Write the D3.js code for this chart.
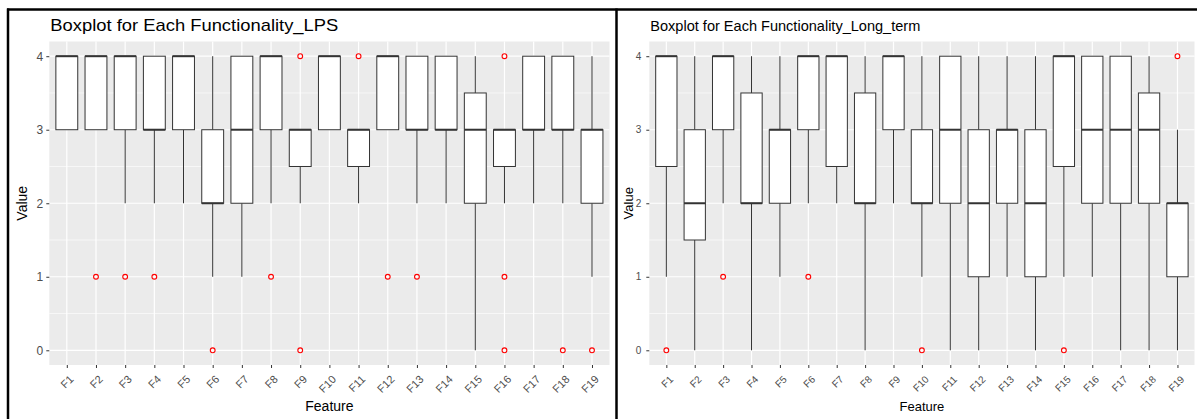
<!DOCTYPE html>
<html>
<head>
<meta charset="utf-8">
<script src="https://cdn.jsdelivr.net/npm/d3@7"></script>
<style>
  body { margin: 0; background: #fff; }
  svg { display: block; font-family: "Liberation Sans", Arial, sans-serif; }
</style>
</head>
<body>
<svg id="chart"></svg>
<script>
const features = ['F1','F2','F3','F4','F5','F6','F7','F8','F9','F10','F11','F12','F13','F14','F15','F16','F17','F18','F19']
const yTicks = [0, 1, 2, 3, 4]
const yMinor = [0.5, 1.5, 2.5, 3.5]

// LPS: whisker ends, quartiles, median, outliers
const lpsLow  = [3, 3, 2, 2, 2, 1, 1, 2, 2, 3, 2, 3, 2, 2, 0, 2, 2, 2, 1]
const lpsQ1   = [3, 3, 3, 3, 3, 2, 2, 3, 2.5, 3, 2.5, 3, 3, 3, 2, 2.5, 3, 3, 2]
const lpsMed  = [4, 4, 4, 3, 4, 2, 3, 4, 3, 4, 3, 4, 3, 3, 3, 3, 3, 3, 3]
const lpsQ3   = [4, 4, 4, 4, 4, 3, 4, 4, 3, 4, 3, 4, 4, 4, 3.5, 3, 4, 4, 3]
const lpsHigh = [4, 4, 4, 4, 4, 4, 4, 4, 3, 4, 3, 4, 4, 4, 4, 3, 4, 4, 4]
const lpsOut  = { F2: [1], F3: [1], F4: [1], F6: [0], F8: [1], F9: [4, 0], F11: [4], F12: [1], F13: [1], F16: [4, 1, 0], F18: [0], F19: [0] }

// Long term
const ltLow  = [1, 0, 2, 0, 1, 2, 2, 0, 2, 1, 0, 0, 1, 0, 1, 1, 0, 0, 0]
const ltQ1   = [2.5, 1.5, 3, 2, 2, 3, 2.5, 2, 3, 2, 2, 1, 2, 1, 2.5, 2, 2, 2, 1]
const ltMed  = [4, 2, 4, 2, 3, 4, 4, 2, 4, 2, 3, 2, 3, 2, 4, 3, 3, 3, 2]
const ltQ3   = [4, 3, 4, 3.5, 3, 4, 4, 3.5, 4, 3, 4, 3, 3, 3, 4, 4, 4, 3.5, 2]
const ltHigh = [4, 4, 4, 4, 4, 4, 4, 4, 4, 4, 4, 4, 4, 4, 4, 4, 4, 4, 3]
const ltOut  = { F1: [0], F3: [1], F6: [1], F10: [0], F15: [0], F19: [4] }

let width = 1197,
height = 419

let svg = d3.select('#chart')
.attr('width', width)
.attr('height', height)

let plotTop = 41.5, plotBottom = 365

let drawPanel = (p) => {
    let g = svg.append('g')
    let x = d3.scalePoint().domain(features).range([p.left, p.right]).padding(0.6)
    let y = d3.scaleLinear().domain([-0.2, 4.2]).range([plotBottom, plotTop])
    let bw = x.step() * 0.75

    g.append('rect')
    .attr('x', p.left).attr('y', plotTop)
    .attr('width', p.right - p.left).attr('height', plotBottom - plotTop)
    .attr('fill', '#EBEBEB')

    g.selectAll('.minor').data(yMinor).enter().append('line')
    .attr('x1', p.left).attr('x2', p.right)
    .attr('y1', d => y(d)).attr('y2', d => y(d))
    .attr('stroke', '#fff').attr('stroke-width', 0.6)

    g.selectAll('.hmajor').data(yTicks).enter().append('line')
    .attr('x1', p.left).attr('x2', p.right)
    .attr('y1', d => y(d)).attr('y2', d => y(d))
    .attr('stroke', '#fff').attr('stroke-width', 1.2)

    g.selectAll('.vmajor').data(features).enter().append('line')
    .attr('x1', d => x(d)).attr('x2', d => x(d))
    .attr('y1', plotTop).attr('y2', plotBottom)
    .attr('stroke', '#fff').attr('stroke-width', 1.2)

    let boxes = features.map((f, i) => ({
        f: f, low: p.low[i], q1: p.q1[i], med: p.med[i], q3: p.q3[i], high: p.high[i], out: p.out[f] || []
    }))

    let bx = g.selectAll('.box').data(boxes).enter().append('g')

    bx.append('line')
    .attr('x1', d => x(d.f)).attr('x2', d => x(d.f))
    .attr('y1', d => y(d.high)).attr('y2', d => y(d.q3))
    .attr('stroke', '#333').attr('stroke-width', 1)

    bx.append('line')
    .attr('x1', d => x(d.f)).attr('x2', d => x(d.f))
    .attr('y1', d => y(d.q1)).attr('y2', d => y(d.low))
    .attr('stroke', '#333').attr('stroke-width', 1)

    bx.append('rect')
    .attr('x', d => x(d.f) - bw / 2).attr('width', bw)
    .attr('y', d => y(d.q3)).attr('height', d => y(d.q1) - y(d.q3))
    .attr('fill', '#fff').attr('stroke', '#333').attr('stroke-width', 1)

    bx.append('line')
    .attr('x1', d => x(d.f) - bw / 2).attr('x2', d => x(d.f) + bw / 2)
    .attr('y1', d => y(d.med)).attr('y2', d => y(d.med))
    .attr('stroke', '#333').attr('stroke-width', 2)

    bx.selectAll('circle').data(d => d.out.map(v => ({f: d.f, v: v}))).enter().append('circle')
    .attr('cx', d => x(d.f)).attr('cy', d => y(d.v))
    .attr('r', 2.4)
    .attr('fill', 'none').attr('stroke', 'red').attr('stroke-width', 1.1)

    // axes
    let ya = g.append('g')
    .attr('transform', `translate(${p.left},0)`)
    .call(d3.axisLeft(y).tickValues(yTicks).tickFormat(d3.format('d')).tickSize(3).tickPadding(p.yPad))
    ya.select('.domain').remove()
    ya.selectAll('line').attr('stroke', '#333')
    ya.selectAll('text').attr('fill', '#4D4D4D').attr('font-size', p.tickSize)
    .attr('font-family', '"Liberation Sans", Arial, sans-serif')

    let xa = g.append('g')
    .attr('transform', `translate(0,${plotBottom})`)
    .call(d3.axisBottom(x).tickSize(3))
    xa.select('.domain').remove()
    xa.selectAll('line').attr('stroke', '#333')
    xa.selectAll('text')
    .attr('fill', '#4D4D4D').attr('font-size', p.xTickSize)
    .attr('font-family', '"Liberation Sans", Arial, sans-serif')
    .attr('text-anchor', 'end')
    .attr('x', 0).attr('y', 0).attr('dy', 0)
    .attr('transform', `translate(7,15) rotate(-45)`)

    g.append('text')
    .attr('x', p.left + 1).attr('y', 31)
    .attr('font-size', p.titleSize)
    .attr('textLength', p.titleLen).attr('lengthAdjust', 'spacingAndGlyphs')
    .attr('fill', '#000')
    .text(p.title)

    g.append('text')
    .attr('x', (p.left + p.right) / 2).attr('y', 411)
    .attr('text-anchor', 'middle')
    .attr('font-size', p.labSize)
    .text('Feature')

    g.append('text')
    .attr('transform', `translate(${p.yLabX},${(plotTop + plotBottom) / 2}) rotate(-90)`)
    .attr('text-anchor', 'middle')
    .attr('font-size', p.labSize)
    .text('Value')
}

drawPanel({
    left: 49.3, right: 609.5,
    low: lpsLow, q1: lpsQ1, med: lpsMed, q3: lpsQ3, high: lpsHigh, out: lpsOut,
    title: 'Boxplot for Each Functionality_LPS', titleSize: 17, titleLen: 288,
    tickSize: 12, xTickSize: 11, labSize: 14, yPad: 3, yLabX: 27
})

drawPanel({
    left: 649.3, right: 1194.5,
    low: ltLow, q1: ltQ1, med: ltMed, q3: ltQ3, high: ltHigh, out: ltOut,
    title: 'Boxplot for Each Functionality_Long_term', titleSize: 15, titleLen: 270,
    tickSize: 10, xTickSize: 10, labSize: 13, yPad: 5, yLabX: 633
})

// frame lines
let frame = [
    {x1: 7, y1: 9.5, x2: width, y2: 9.5},
    {x1: 8, y1: 8.5, x2: 8, y2: height},
    {x1: 616.5, y1: 8.5, x2: 616.5, y2: height}
]
svg.selectAll('.frame').data(frame).enter().append('line')
.attr('x1', d => d.x1).attr('y1', d => d.y1)
.attr('x2', d => d.x2).attr('y2', d => d.y2)
.attr('stroke', '#000').attr('stroke-width', 2.5)
</script>
</body>
</html>
